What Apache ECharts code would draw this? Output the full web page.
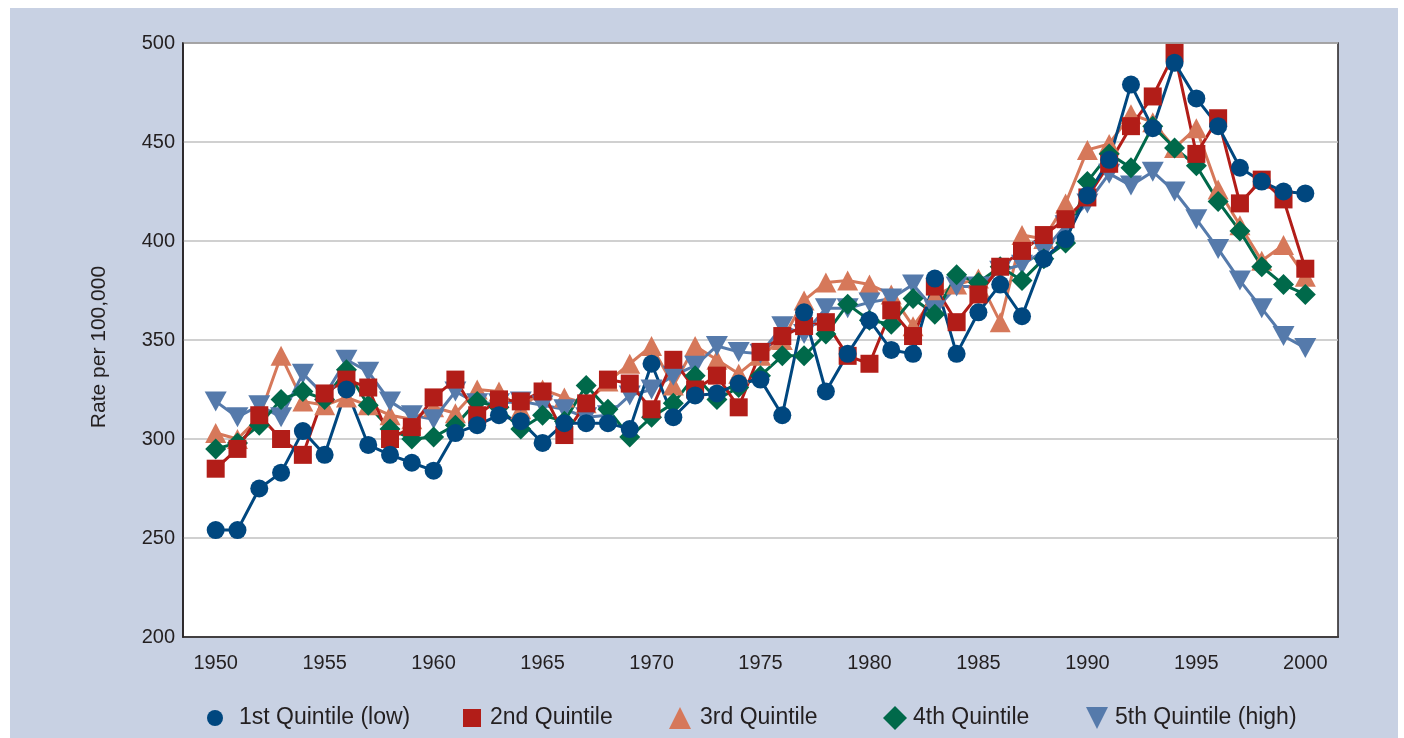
<!DOCTYPE html>
<html>
<head>
<meta charset="utf-8">
<script src="https://cdn.jsdelivr.net/npm/echarts@6/dist/echarts.min.js"></script>
<style>
  html, body { margin: 0; padding: 0; background: #ffffff; }
  #chart { position: absolute; left: 10px; top: 8px; width: 1388px; height: 730px; background: #c8d1e3; }
</style>
</head>
<body>
<div id="chart"></div>
<script>
var years = [];
for (var y = 1950; y <= 2000; y++) years.push(y);

var q1 = [254, 254, 275, 283, 304, 292, 325, 297, 292, 288,
  284, 303, 307, 312, 309, 298, 308, 308, 308, 305,
  338, 311, 322, 323, 328, 330, 312, 364, 324, 343,
  360, 345, 343, 381, 343, 364, 378, 362, 391, 401,
  423, 441, 479, 457, 490, 472, 458, 437, 430, 425, 424];
var q2 = [285, 295, 312, 300, 292, 323, 330, 326, 300, 306,
  321, 330, 312, 320, 319, 324, 302, 318, 330, 328,
  315, 340, 325, 332, 316, 344, 352, 357, 359, 342,
  338, 365, 352, 377, 359, 373, 387, 395, 403, 411,
  422, 439, 458, 473, 495, 444, 462, 419, 431, 421, 386];
var q3 = [303, 300, 311, 342, 319, 317, 321, 317, 312, 310,
  316, 313, 325, 324, 315, 325, 321, 318, 329, 338,
  347, 327, 347, 340, 333, 342, 350, 370, 379, 380,
  378, 373, 357, 372, 378, 381, 359, 403, 401, 419,
  446, 449, 464, 460, 447, 457, 426, 408, 390, 398, 382];
var q4 = [295, 298, 307, 320, 324, 320, 335, 317, 305, 300,
  301, 307, 319, 316, 305, 312, 309, 327, 315, 301,
  311, 318, 332, 320, 326, 332, 342, 342, 353, 368,
  360, 358, 371, 363, 383, 379, 387, 380, 391, 399,
  430, 444, 437, 458, 447, 438, 420, 405, 387, 378, 373];
var q5 = [319, 311, 317, 311, 333, 322, 340, 334, 319, 312,
  310, 324, 318, 318, 319, 317, 315, 311, 312, 322,
  325, 332, 337, 347, 344, 343, 357, 353, 366, 366,
  369, 371, 378, 365, 377, 377, 385, 388, 395, 408,
  419, 434, 428, 435, 425, 411, 396, 380, 366, 352, 346];

var names = ['1st Quintile (low)', '2nd Quintile', '3rd Quintile', '4th Quintile', '5th Quintile (high)'];
var colors = ['#00477f', '#b21d18', '#d6785a', '#00694a', '#557aab'];
var downTri = 'path://M0,0L10,0L5,10Z';
var symbols = ['circle', 'rect', 'triangle', 'diamond', downTri];

// one empty slot either side so the first and last years sit off the frame
var cats = [' '].concat(years.map(String)).concat(['  ']);

var font = 'Liberation Sans, Arial, sans-serif';
var ink = '#231f20';

function pairs(vals) {
  return years.map(function (yr, i) { return [String(yr), vals[i]]; });
}
function every5(idx, val) {
  var n = parseInt(val, 10);
  return !isNaN(n) && n % 5 === 0;
}

function line(k, vals, size) {
  return {
    name: names[k],
    type: 'line',
    data: pairs(vals),
    symbol: symbols[k],
    symbolSize: size,
    showAllSymbol: true,
    lineStyle: { color: colors[k], width: 3 },
    itemStyle: { color: colors[k], opacity: 1 },
    emphasis: { disabled: true },
    animation: false
  };
}

// legend entries placed one by one: [icon centre x, icon size, extra gap before text]
var legendSpots = [[205, 16, 11], [462, 18, 4], [670, 22, 4], [885, 24, 1], [1087, 22, 2]];
var legends = legendSpots.map(function (s, k) {
  return {
    data: [{ name: names[k], icon: symbols[k] }],
    left: s[0] - s[1] / 2,
    top: 710 - Math.max(s[1] / 2, 11.5),
    itemWidth: s[1],
    itemHeight: s[1],
    padding: 0,
    selectedMode: false,
    textStyle: { fontFamily: font, fontSize: 23, color: ink, padding: [0, 0, 0, s[2]] }
  };
});

var myChart = echarts.init(document.getElementById('chart'));
var option = {
  backgroundColor: '#c8d1e3',
  textStyle: { fontFamily: font, color: ink },
  grid: {
    left: 173, top: 35, right: 60, bottom: 101,
    show: true, backgroundColor: '#ffffff',
    borderColor: ink, borderWidth: 1.5
  },
  legend: legends,
  xAxis: {
    type: 'category',
    data: cats,
    boundaryGap: true,
    axisLine: { lineStyle: { color: ink, width: 1.5 } },
    axisTick: { inside: true, length: 7, interval: every5, alignWithLabel: true, lineStyle: { color: '#555', width: 1.5 } },
    axisLabel: { interval: every5, fontSize: 20, color: ink, margin: 16, fontFamily: font },
    splitLine: { show: false }
  },
  yAxis: {
    type: 'value',
    min: 200,
    max: 500,
    interval: 50,
    name: 'Rate per 100,000',
    nameLocation: 'middle',
    nameGap: 73,
    nameTextStyle: { fontSize: 21, color: ink, fontFamily: font, padding: [0, 14, 0, 0] },
    axisLine: { show: true, lineStyle: { color: ink, width: 1.5 } },
    axisTick: { show: false },
    axisLabel: { fontSize: 20, color: ink, margin: 8, fontFamily: font },
    splitLine: { lineStyle: { color: '#c0c0c0', width: 1.5 } }
  },
  series: [
    line(2, q3, [21, 20]),
    line(4, q5, [22, 20]),
    line(3, q4, [21, 21]),
    line(1, q2, [18, 18]),
    line(0, q1, 18)
  ]
};

option && myChart.setOption(option);
</script>
</body>
</html>
